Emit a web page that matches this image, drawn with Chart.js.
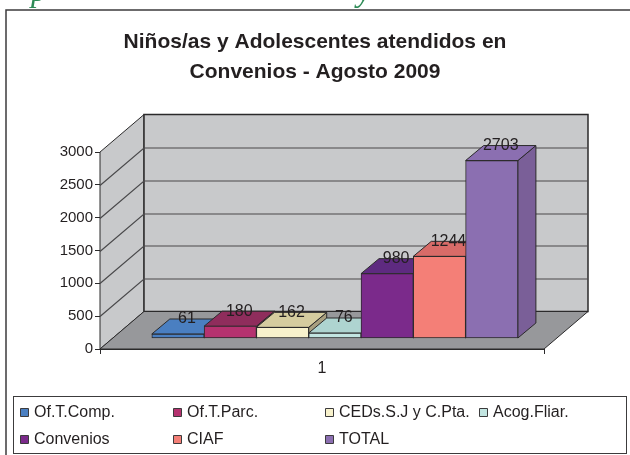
<!DOCTYPE html>
<html>
<head>
<meta charset="utf-8">
<title>Convenios - Agosto 2009</title>
<script src="https://cdn.jsdelivr.net/npm/chart.js@4"></script>
<style>
    body { margin: 0; background: #fff; }
    canvas { display: block; }
</style>
</head>
<body>
<canvas id="chart" width="630" height="455"></canvas>
<script>
// Chart data
const categories = ['1'];
const seriesNames = ['Of.T.Comp.', 'Of.T.Parc.', 'CEDs.S.J y C.Pta.', 'Acog.Fliar.', 'Convenios', 'CIAF', 'TOTAL'];
const seriesValues = [61, 180, 162, 76, 980, 1244, 2703];
const yTicks = [0, 500, 1000, 1500, 2000, 2500, 3000];
const titleLines = ['Niños/as y Adolescentes atendidos en', 'Convenios - Agosto 2009'];

// Face colours of each bar
const frontColors = ['#4a7fc1', '#b5326f', '#f8f2cc', '#c2e5e1', '#7b2a8b', '#f47f77', '#8b6fb1'];
const topColors = ['#4a7fc1', '#8f2d5c', '#d5cc9f', '#aed4d0', '#5e2a80', '#d86b68', '#8b6fb1'];
const sideColors = ['#3a6499', '#76264c', '#a89f7f', '#8fb0ad', '#4e2369', '#b55a57', '#7a5f98'];

const textColor = '#231f20';
const lineColor = '#2b2a2b';
const wallDepth = { x: 44, y: -37.5 };
const barDepth = { x: 18, y: -15 };

// Left edge of each legend column, and the y of each row
const legendColumns = [20, 173, 325, 479];
const legendRows = [413, 440];

function polygon(ctx, pts, fill, stroke, width) {
    ctx.beginPath();
    pts.forEach((p, i) => i ? ctx.lineTo(p[0], p[1]) : ctx.moveTo(p[0], p[1]));
    ctx.closePath();
    ctx.fillStyle = fill;
    ctx.fill();
    ctx.strokeStyle = stroke;
    ctx.lineWidth = width || 1;
    ctx.stroke();
}

// Walls and floor of the 3D box, page frame and legend
const boxPlugin = {
    id: 'box',
    beforeDatasetsDraw(chart) {
        const ctx = chart.ctx;
        const y = chart.scales.y;
        const a = chart.chartArea;
        const d = wallDepth;
        const y0 = y.getPixelForValue(0);
        const yTop = y.getPixelForValue(3000);

        polygon(ctx, [[a.left, y0], [a.left + d.x, y0 + d.y], [a.left + d.x, yTop + d.y], [a.left, yTop]], '#c8c9cb', lineColor);
        polygon(ctx, [[a.left + d.x, y0 + d.y], [a.right + d.x, y0 + d.y], [a.right + d.x, yTop + d.y], [a.left + d.x, yTop + d.y]], '#c8c9cb', lineColor, 1.5);
        polygon(ctx, [[a.left, y0], [a.right, y0], [a.right + d.x, y0 + d.y], [a.left + d.x, y0 + d.y]], '#97989b', lineColor);

        ctx.strokeStyle = '#4a494b';
        ctx.lineWidth = 1.2;
        yTicks.slice(1, -1).forEach(v => {
            const py = Math.round(y.getPixelForValue(v)) + 0.5;
            ctx.beginPath();
            ctx.moveTo(a.left, py);
            ctx.lineTo(a.left + d.x, py + d.y);
            ctx.lineTo(a.right + d.x, py + d.y);
            ctx.stroke();
        });
    },
    // top and side of a bar go in just before its front, left bars first
    beforeDatasetDraw(chart, args) {
        const bar = chart.getDatasetMeta(args.index).data[0];
        const ctx = chart.ctx;
        const d = barDepth;
        const l = bar.x - bar.width / 2;
        const r = bar.x + bar.width / 2;
        polygon(ctx, [[r, bar.y], [r, bar.base], [r + d.x, bar.base + d.y], [r + d.x, bar.y + d.y]], sideColors[args.index], lineColor);
        polygon(ctx, [[l, bar.y], [r, bar.y], [r + d.x, bar.y + d.y], [l + d.x, bar.y + d.y]], topColors[args.index], lineColor);
    },
    afterDatasetsDraw(chart) {
        const ctx = chart.ctx;
        ctx.font = '16px "Liberation Sans"';
        ctx.fillStyle = textColor;
        ctx.textAlign = 'center';
        ctx.textBaseline = 'middle';
        seriesValues.forEach((v, i) => {
            const bar = chart.getDatasetMeta(i).data[0];
            ctx.fillText(String(v), bar.x + barDepth.x / 2, bar.y + barDepth.y);
        });
    },
    afterDraw(chart) {
        const ctx = chart.ctx;
        // outer frame, open on the right and bottom
        ctx.strokeStyle = '#3c3b3c';
        ctx.lineWidth = 1.5;
        ctx.beginPath();
        ctx.moveTo(6, 455);
        ctx.lineTo(6, 10);
        ctx.lineTo(630, 10);
        ctx.stroke();

        // legend
        ctx.fillStyle = '#fff';
        ctx.fillRect(13.5, 396.5, 613, 57);
        ctx.strokeStyle = '#3c3b3c';
        ctx.lineWidth = 1;
        ctx.strokeRect(13.5, 396.5, 613, 57);
        ctx.font = '16px "Liberation Sans"';
        ctx.textAlign = 'left';
        ctx.textBaseline = 'middle';
        seriesNames.forEach((name, i) => {
            const x = legendColumns[i % 4];
            const y = legendRows[Math.floor(i / 4)];
            polygon(ctx, [[x + 0.5, y - 4.5], [x + 8.5, y - 4.5], [x + 8.5, y + 3.5], [x + 0.5, y + 3.5]], frontColors[i], '#3c3b3c');
            ctx.fillStyle = textColor;
            ctx.fillText(name, x + 14, y);
        });

        // bottom of the heading line cut off by the top of the picture
        ctx.font = 'italic 32px "Liberation Serif"';
        ctx.fillStyle = '#2e8b57';
        ctx.textBaseline = 'alphabetic';
        ctx.fillText('p', 31, 1);
        ctx.fillText('y', 357, 1);
    }
};

new Chart(document.getElementById('chart'), {
    type: 'bar',
    plugins: [boxPlugin],
    data: {
        labels: categories,
        datasets: seriesNames.map((name, i) => ({
            label: name,
            data: [{ x: i + 1, y: seriesValues[i] }],
            xAxisID: 'xBar',
            yAxisID: 'yBar',
            order: seriesNames.length - i,
            backgroundColor: frontColors[i],
            borderColor: lineColor,
            borderWidth: 1,
            borderSkipped: false,
            barThickness: 52.3,
            grouped: false
        }))
    },
    options: {
        responsive: false,
        animation: false,
        events: [],
        layout: { padding: { left: 10, right: 10, top: 0, bottom: 0 } },
        plugins: {
            legend: { display: false },
            tooltip: { enabled: false },
            title: {
                display: true,
                text: titleLines,
                color: textColor,
                font: { family: '"Liberation Sans"', size: 21, weight: 'bold', lineHeight: 1.43 },
                padding: { top: 27, bottom: 65 }
            }
        },
        scales: {
            x: {
                type: 'category',
                grid: { offset: true, drawOnChartArea: false, color: lineColor, tickLength: 5 },
                border: { color: lineColor },
                ticks: { color: textColor, padding: 5, font: { family: '"Liberation Sans"', size: 16 } },
                afterFit(scale) { scale.height = 106; }
            },
            y: {
                position: 'left',
                min: 0,
                max: 3000,
                grid: { drawOnChartArea: false, color: lineColor, tickLength: 5 },
                border: { color: lineColor },
                afterBuildTicks(scale) { scale.ticks = yTicks.map(v => ({ value: v })); },
                ticks: {
                    color: textColor,
                    padding: 2,
                    font: { family: '"Liberation Sans"', size: 15 },
                    callback: value => String(value)
                },
                afterFit(scale) { scale.width = 90; }
            },
            // same units as y, lifted onto the floor of the box
            yBar: {
                position: 'right',
                min: -167.5,
                max: 2832.5,
                grid: { display: false },
                border: { display: false },
                ticks: { display: false },
                afterFit(scale) { scale.width = 76; }
            },
            xBar: {
                type: 'linear',
                display: false,
                offset: false,
                min: -0.491,
                max: 7.999
            }
        }
    }
});
</script>
</body>
</html>
